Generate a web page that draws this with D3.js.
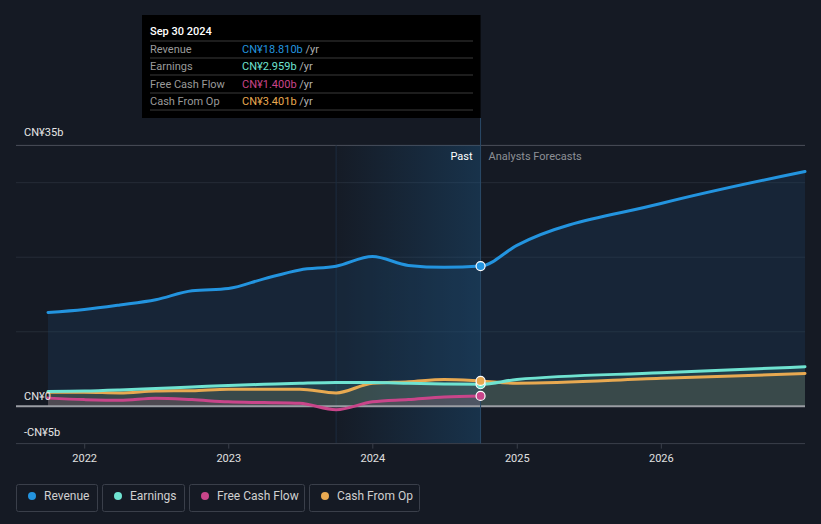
<!DOCTYPE html>
<html><head><meta charset="utf-8">
<script src="https://cdn.jsdelivr.net/npm/d3@7"></script>
<style>
html,body{margin:0;padding:0;background:#151a24;}
svg{display:block;font-family:Roboto,"Noto Sans",sans-serif;}
</style></head>
<body><svg id="c" width="821" height="524"></svg>
<script>
const pastDates = ["2021-09-30","2021-12-31","2022-03-31","2022-06-30","2022-09-30","2022-12-31","2023-03-31","2023-06-30","2023-09-30","2023-12-31","2024-03-31","2024-06-30","2024-09-30"];
const forecastDates = ["2024-09-30","2024-12-31","2025-12-31","2026-12-31"];
const revenuePast = [12.6,13.0,13.6,14.3,15.5,15.8,17.1,18.3,18.8,20.1,18.9,18.65,18.81];
const earningsPast = [2.0,2.05,2.2,2.4,2.6,2.8,2.95,3.1,3.2,3.2,3.1,3.0,2.959];
const fcfPast = [1.1,0.9,0.8,1.1,0.9,0.6,0.5,0.4,-0.45,0.6,0.9,1.25,1.4];
const cfoPast = [1.9,1.9,1.8,2.05,2.1,2.3,2.3,2.3,1.8,3.1,3.3,3.6,3.401];
const revenueFc = [18.81,21.6,27.2,31.5];
const earningsFc = [2.959,3.6,4.5,5.3];
const cfoFc = [3.401,3.1,3.75,4.4];
const yTicks = [35,0,-5];
const yTickLabels = ["CN¥35b","CN¥0","-CN¥5b"];
const gridValues = [35,30,20,10];
const xTickYears = [2022,2023,2024,2025,2026];
const tooltipTitle = "Sep 30 2024";
const tooltipRows = [["Revenue","CN¥18.810b"],["Earnings","CN¥2.959b"],["Free Cash Flow","CN¥1.400b"],["Cash From Op","CN¥3.401b"]];
const seriesNames = ["Revenue","Earnings","Free Cash Flow","Cash From Op"];
const colors = ["#2394df","#6fe3d1","#c9458a","#e8a951"];

const svg = d3.select("#c");
const parse = d3.utcParse("%Y-%m-%d");
const x = d3.scaleUtc().domain([parse("2021-09-30"), parse("2026-12-31")]).range([48,805]);
const y = d3.scaleLinear().domain([-5,35]).range([443.6,145.4]);
const pastEnd = parse("2024-09-30"), bandStart = parse("2023-09-30");

const defs = svg.append("defs");
const g1 = defs.append("linearGradient").attr("id","band").attr("x1",0).attr("x2",1).attr("y1",0).attr("y2",0);
g1.append("stop").attr("offset","0%").attr("stop-color","#1d5a8a").attr("stop-opacity",0.02);
g1.append("stop").attr("offset","100%").attr("stop-color","#1d5a8a").attr("stop-opacity",0.38);

// grid
svg.append("g").selectAll("line").data(gridValues).join("line")
  .attr("x1",16).attr("x2",805).attr("y1",d=>y(d)).attr("y2",d=>y(d))
  .attr("stroke",d=>d===35?"#4a4f5a":"#262c37").attr("stroke-width",1);

// past band
svg.append("rect").attr("x",x(bandStart)).attr("y",y(35)).attr("width",x(pastEnd)-x(bandStart)).attr("height",y(-5)-y(35)).attr("fill","url(#band)");
svg.append("line").attr("x1",x(bandStart)).attr("x2",x(bandStart)).attr("y1",y(35)).attr("y2",y(-5)).attr("stroke","#1c2c3e").attr("stroke-width",1);

const mk = (dates, vals) => dates.map((d,i)=>({d:parse(d),v:vals[i]}));
const series = [
  {name:"Revenue", data: mk(pastDates,revenuePast).concat(mk(forecastDates,revenueFc).slice(1)), c:colors[0], fillOp:0.28, fill:"#1e4668"},
  {name:"Earnings", data: mk(pastDates,earningsPast).concat(mk(forecastDates,earningsFc).slice(1)), c:colors[1], fillOp:0.12, fill:"#6fe3d1"},
  {name:"Free Cash Flow", data: mk(pastDates,fcfPast), c:colors[2], fillOp:0.15, fill:"#c9458a"},
  {name:"Cash From Op", data: mk(pastDates,cfoPast).concat(mk(forecastDates,cfoFc).slice(1)), c:colors[3], fillOp:0.12, fill:"#e8a951"}
];
const curve = d3.curveMonotoneX;
const area = d3.area().x(d=>x(d.d)).y0(y(0)).y1(d=>y(d.v)).curve(curve);
const line = d3.line().x(d=>x(d.d)).y(d=>y(d.v)).curve(curve);

series.forEach(s=>{
  svg.append("path").attr("d",area(s.data)).attr("fill",s.fill).attr("fill-opacity",s.fillOp);
});
// zero line
svg.append("line").attr("x1",16).attr("x2",805).attr("y1",y(0)).attr("y2",y(0)).attr("stroke","#9a9da3").attr("stroke-width",2);
// bottom axis line
svg.append("line").attr("x1",16).attr("x2",805).attr("y1",y(-5)).attr("y2",y(-5)).attr("stroke","#3a3f4a").attr("stroke-width",1);

[3,2,1,0].forEach(i=>{
  const s = series[i];
  svg.append("path").attr("d",line(s.data)).attr("fill","none").attr("stroke",s.c).attr("stroke-width",3).attr("stroke-linecap","round");
});

// vertical line at past end
svg.append("line").attr("x1",x(pastEnd)).attr("x2",x(pastEnd)).attr("y1",118).attr("y2",y(-5)).attr("stroke","#2a4a68").attr("stroke-width",1);

// dots
const dotVals = [[revenuePast,0],[earningsPast,1],[fcfPast,2],[cfoPast,3]];
[1,2,3,0].forEach(i=>{
  const arr = dotVals[i][0];
  svg.append("circle").attr("cx",x(pastEnd)).attr("cy",y(arr[arr.length-1])).attr("r",4.5)
    .attr("fill",colors[i]).attr("stroke","#ffffff").attr("stroke-width",1.2);
});

// x axis ticks
const xa = svg.append("g");
xTickYears.forEach(yr=>{
  const xx = x(new Date(Date.UTC(yr,0,1)));
  xa.append("line").attr("x1",xx).attr("x2",xx).attr("y1",y(-5)).attr("y2",y(-5)+5).attr("stroke","#3a3f4a");
  xa.append("text").attr("x",xx).attr("y",462).attr("text-anchor","middle").attr("fill","#e0e0e0").attr("font-size",11).text(yr);
});

// y labels
const yLabelY = {35:136, 0:400, "-5":436};
yTicks.forEach((t,i)=>{
  svg.append("text").attr("x",24).attr("y",yLabelY[t]).attr("fill","#e6e6e6").attr("font-size",11).text(yTickLabels[i]);
});

// Past / Analysts Forecasts
svg.append("text").attr("x",x(pastEnd)-8).attr("y",160).attr("text-anchor","end").attr("fill","#ffffff").attr("font-size",11).text("Past");
svg.append("text").attr("x",x(pastEnd)+8).attr("y",160).attr("fill","#8d9096").attr("font-size",11).text("Analysts Forecasts");

// tooltip
const tt = svg.append("g");
tt.append("rect").attr("x",142).attr("y",15).attr("width",x(pastEnd)-142).attr("height",103).attr("fill","#000000");
tt.append("text").attr("x",150).attr("y",35).attr("fill","#ffffff").attr("font-size",11).attr("font-weight",500).text(tooltipTitle);
const rowY = [49,66,84,101];
const sepY = [41,58,75,93,110];
sepY.forEach(sy=>tt.append("line").attr("x1",150).attr("x2",473).attr("y1",sy).attr("y2",sy).attr("stroke","#3a3a3a"));
tooltipRows.forEach((r,i)=>{
  tt.append("text").attr("x",150).attr("y",rowY[i]+4).attr("fill","#9a9a9a").attr("font-size",11).text(r[0]);
  const t = tt.append("text").attr("x",242).attr("y",rowY[i]+4).attr("font-size",11);
  t.append("tspan").attr("fill",colors[i]).text(r[1]);
  t.append("tspan").attr("fill","#b0b0b0").text(" /yr");
});

// legend
const lg = svg.append("g");
let lx = 16;
seriesNames.forEach((n,i)=>{
  const w = [81,82,115,110][i];
  lg.append("rect").attr("x",lx+0.5).attr("y",484.5).attr("width",w).attr("height",27).attr("rx",2).attr("fill","none").attr("stroke","#3a3f4a");
  lg.append("circle").attr("cx",lx+16).attr("cy",496).attr("r",4).attr("fill",colors[i]);
  lg.append("text").attr("x",lx+28).attr("y",500).attr("fill","#d0d0d0").attr("font-size",12).text(n);
  lx += w + 5;
});
</script></body></html>
